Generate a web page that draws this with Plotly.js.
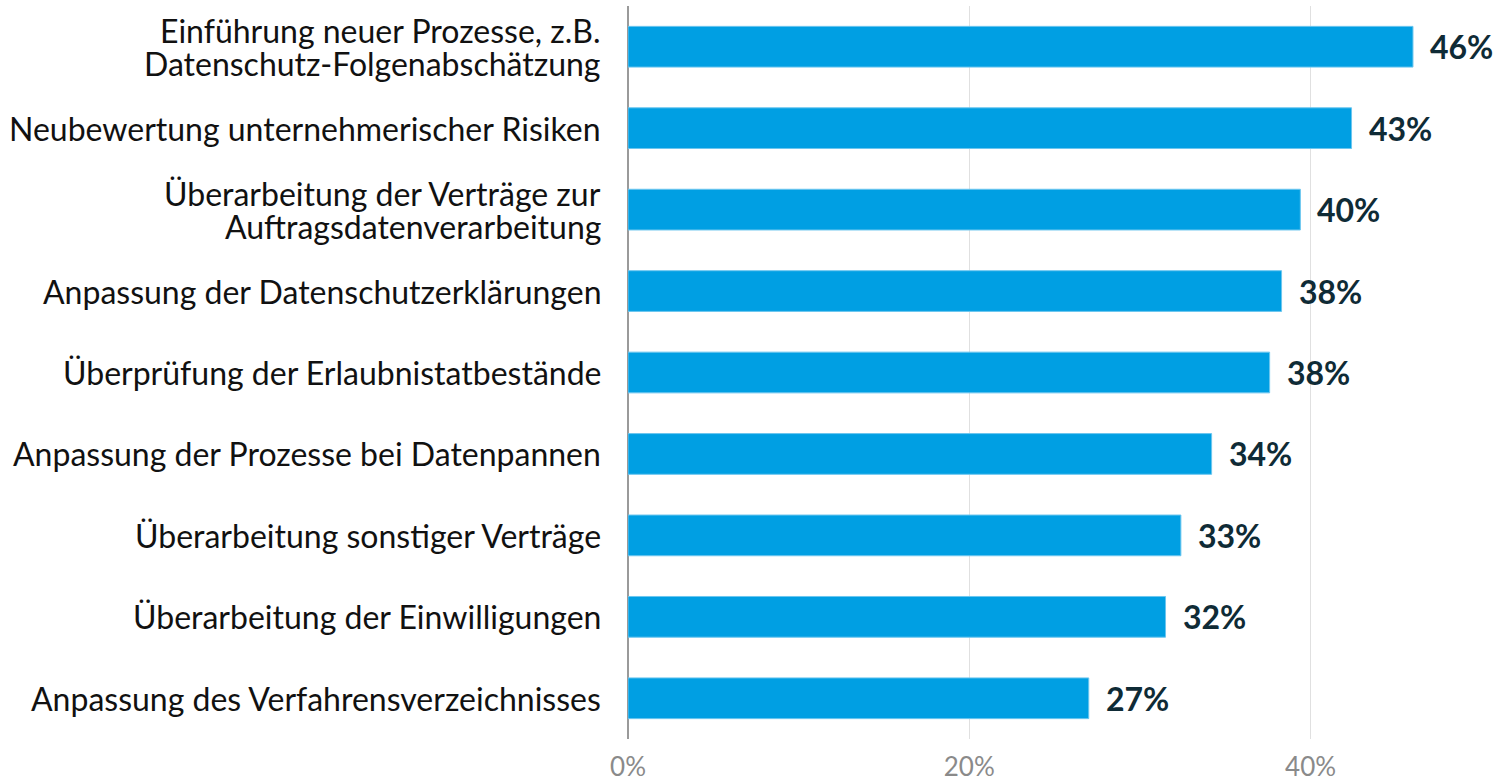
<!DOCTYPE html>
<html>
<head>
<meta charset="utf-8">
<script src="https://cdn.plot.ly/plotly-3.0.1.min.js"></script>
<style>html,body{margin:0;padding:0;background:#fff;}#chart{width:1500px;height:783px;}</style>
</head>
<body>
<div id="chart"></div>
<script>
const categories = [
  "Einführung neuer Prozesse, z.B.<br>Datenschutz-Folgenabschätzung",
  "Neubewertung unternehmerischer Risiken",
  "Überarbeitung der Verträge zur<br>Auftragsdatenverarbeitung",
  "Anpassung der Datenschutzerklärungen",
  "Überprüfung der Erlaubnistatbestände",
  "Anpassung der Prozesse bei Datenpannen",
  "Überarbeitung sonstiger Verträge",
  "Überarbeitung der Einwilligungen",
  "Anpassung des Verfahrensverzeichnisses"
];
const values = [46.0, 42.4, 39.4, 38.3, 37.6, 34.2, 32.4, 31.5, 27.0];
const valueLabels = ["46%", "43%", "40%", "38%", "38%", "34%", "33%", "32%", "27%"];
const tickValues = [0, 20, 40];
const tickLabels = ["0%", "20%", "40%"];

const FONT = "Lato, 'Open Sans', sans-serif";

const trace = {
  type: "bar",
  orientation: "h",
  x: values,
  y: categories,
  marker: {color: "#009FE3", line: {color: "#6cc6ef", width: 1}},
  hoverinfo: "none"
};

const annotations = values.map((v, i) => ({
  x: v, y: categories[i], xref: "x", yref: "y",
  text: "<b>" + valueLabels[i] + "</b>",
  showarrow: false, xanchor: "left", yanchor: "middle", xshift: 15,
  font: {family: FONT, size: 32, color: "#0f2b36"}
}));

// category labels drawn as annotations so line spacing can be tight
categories.forEach((c) => {
  const lines = c.split("<br>");
  const n = lines.length;
  lines.forEach((ln, j) => {
    annotations.push({
      x: 0, y: c, xref: "paper", yref: "y",
      text: ln, showarrow: false, xanchor: "right", yanchor: "middle",
      xshift: -25, yshift: ((n - 1) / 2 - j) * 33,
      font: {family: FONT, size: 32, color: "#111"}
    });
  });
});

const layout = {
  width: 1500, height: 783,
  margin: {l: 628, r: 0, t: 6, b: 44},
  paper_bgcolor: "#fff", plot_bgcolor: "#fff",
  showlegend: false,
  bargap: 0.5,
  font: {family: FONT},
  xaxis: {
    range: [0, 51.1],
    tickvals: tickValues, ticktext: tickLabels,
    showgrid: true, gridcolor: "#e0e0e0", gridwidth: 1,
    zeroline: true, zerolinecolor: "#9a9a9a", zerolinewidth: 1.5,
    showline: false, ticks: "",
    ticklabelstandoff: 10,
    tickfont: {family: FONT, size: 26, color: "#8a8a8a"},
    fixedrange: true
  },
  yaxis: {
    autorange: "reversed",
    showgrid: false, zeroline: false, showline: false, ticks: "",
    showticklabels: false,
    fixedrange: true
  },
  annotations: annotations
};

Plotly.newPlot("chart", [trace], layout, {displayModeBar: false, staticPlot: true});
</script>
</body>
</html>
